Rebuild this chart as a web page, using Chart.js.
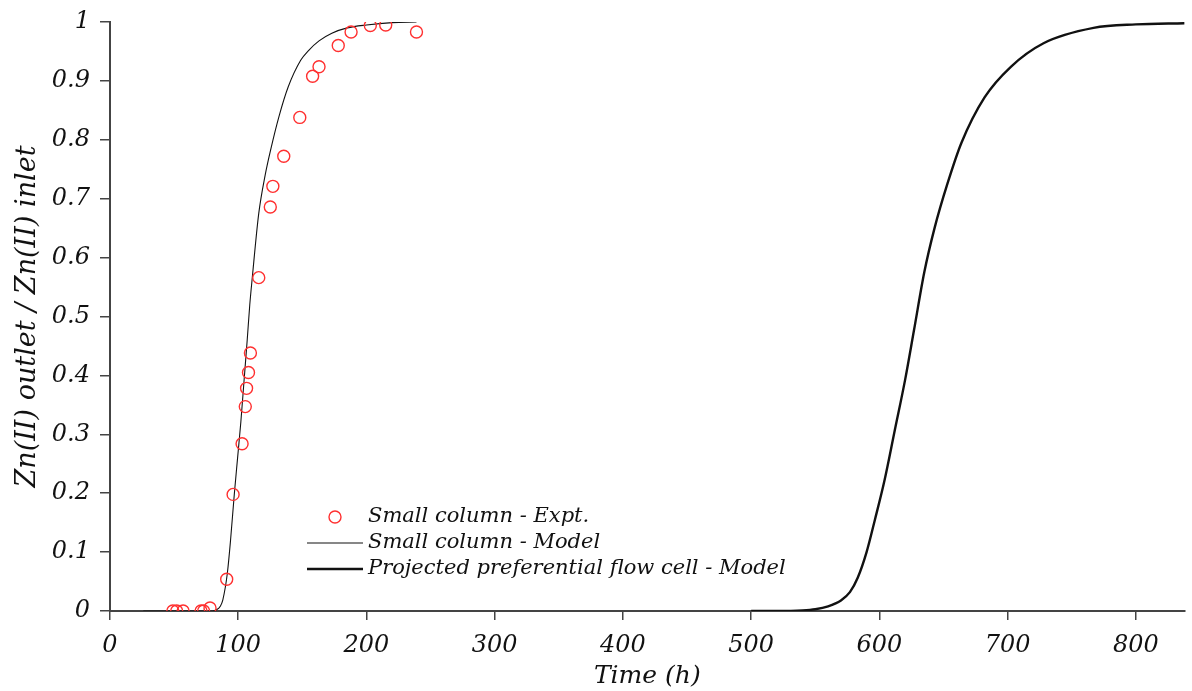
<!DOCTYPE html>
<html>
<head>
<meta charset="utf-8">
<script src="https://cdn.jsdelivr.net/npm/chart.js@4"></script>
<style>
  body { margin: 0; background: #fff; }
  #wrap { width: 1192px; height: 691px; position: relative; }
</style>
</head>
<body>
<div id="wrap"><canvas id="breakthrough"></canvas></div>
<script>
// Small column - experimental points
const exptTime  = [49, 52, 57, 71, 73, 78, 91, 96, 103, 105.5, 106.5, 108, 109.5, 116, 125, 127, 135.5, 148, 158, 163, 178, 188, 203, 215, 239];
const exptRatio = [0, 0, 0, 0, 0, 0.005, 0.054, 0.198, 0.284, 0.347, 0.378, 0.405, 0.438, 0.566, 0.686, 0.721, 0.772, 0.838, 0.908, 0.924, 0.960, 0.983, 0.994, 0.995, 0.983];

// Small column - model curve
const smallTime  = [26, 50, 70, 80, 83, 86, 88, 91.5, 94, 97, 99.5, 102, 104.5, 107, 109, 111, 116, 121, 125.5, 131.7, 139, 148.7, 155, 163, 173, 185, 200, 220, 239];
const smallRatio = [0, 0, 0, 0, 0.002, 0.008, 0.019, 0.064, 0.12, 0.2, 0.26, 0.32, 0.39, 0.46, 0.52, 0.567, 0.675, 0.74, 0.785, 0.839, 0.89, 0.935, 0.952, 0.968, 0.981, 0.99, 0.995, 0.999, 1.0];

// Projected preferential flow cell - model curve
const flowTime  = [500, 520, 540, 550, 560, 570, 577, 583, 590, 596.5, 604, 612, 620, 627, 635, 643, 653, 664, 682, 702.5, 728, 767, 800, 838];
const flowRatio = [0, 0, 0.001, 0.003, 0.008, 0.018, 0.032, 0.056, 0.1, 0.155, 0.222, 0.307, 0.392, 0.477, 0.575, 0.65, 0.725, 0.795, 0.872, 0.924, 0.964, 0.99, 0.996, 0.998];

const legendLabels = ['Small column - Expt.', 'Small column - Model', 'Projected preferential flow cell - Model'];

const FONT = 'DejaVu Serif';
const AXIS = '#444';

function pairs(xs, ys) {
    return xs.map((x, i) => ({ x: x, y: ys[i] }));
}

// Legend drawn inside the plot, bottom-left
const insideLegend = {
    id: 'insideLegend',
    afterDraw(chart) {
        const ctx = chart.ctx;
        const x0 = 307, textX = 368, y0 = 517, rowH = 26;
        ctx.save();
        ctx.font = 'italic 21px "' + FONT + '"';
        ctx.fillStyle = '#111';
        ctx.textBaseline = 'middle';
        legendLabels.forEach((label, i) => {
            const y = y0 + i * rowH;
            if (i === 0) {
                ctx.beginPath();
                ctx.arc(335, y, 6, 0, Math.PI * 2);
                ctx.strokeStyle = '#ff3030';
                ctx.lineWidth = 1.4;
                ctx.stroke();
            } else {
                ctx.beginPath();
                ctx.moveTo(x0, y);
                ctx.lineTo(363, y);
                ctx.strokeStyle = '#111';
                ctx.lineWidth = i === 1 ? 1.1 : 2.4;
                ctx.stroke();
            }
            ctx.fillText(label, textX, y);
        });
        ctx.restore();
    }
};

const chart = new Chart(document.getElementById('breakthrough').getContext('2d'), {
    type: 'scatter',
    data: {
        datasets: [
            {
                label: legendLabels[0],
                data: pairs(exptTime, exptRatio),
                showLine: false,
                pointStyle: 'circle',
                pointRadius: 6,
                pointBorderWidth: 1.4,
                pointBorderColor: '#ff3030',
                pointBackgroundColor: 'rgba(0,0,0,0)',
                order: 0
            },
            {
                label: legendLabels[1],
                data: pairs(smallTime, smallRatio),
                showLine: true,
                borderColor: '#111',
                borderWidth: 1.1,
                pointRadius: 0,
                cubicInterpolationMode: 'monotone',
                order: 1
            },
            {
                label: legendLabels[2],
                data: pairs(flowTime, flowRatio),
                showLine: true,
                borderColor: '#111',
                borderWidth: 2.4,
                pointRadius: 0,
                cubicInterpolationMode: 'monotone',
                order: 2
            }
        ]
    },
    options: {
        responsive: true,
        maintainAspectRatio: false,
        animation: false,
        layout: { padding: { top: 22, right: 0, bottom: 0, left: 4 } },
        plugins: {
            legend: { display: false },
            tooltip: { enabled: false }
        },
        scales: {
            x: {
                type: 'linear',
                min: 0,
                max: 838,
                grid: { drawOnChartArea: false, tickLength: 9, color: AXIS, lineWidth: 1.5 },
                border: { color: AXIS, width: 2 },
                ticks: {
                    stepSize: 100,
                    includeBounds: false,
                    padding: 11,
                    color: '#111',
                    font: { family: FONT, style: 'italic', size: 24 },
                    maxRotation: 0
                },
                title: {
                    display: true,
                    text: 'Time (h)',
                    color: '#111',
                    padding: { top: 0, bottom: 0 },
                    font: { family: FONT, style: 'italic', size: 25 }
                },
                afterFit: function(scale) {
                    scale.height = 80;
                    scale.paddingLeft = 0;
                    scale.paddingRight = 0;
                }
            },
            y: {
                type: 'linear',
                min: 0,
                max: 1,
                grid: { drawOnChartArea: false, tickLength: 10, color: AXIS, lineWidth: 1.5 },
                border: { color: AXIS, width: 2 },
                ticks: {
                    stepSize: 0.1,
                    padding: 10,
                    color: '#111',
                    font: { family: FONT, style: 'italic', size: 24 },
                    callback: v => String(+v.toFixed(1))
                },
                title: {
                    display: true,
                    text: 'Zn(II) outlet / Zn(II) inlet',
                    color: '#111',
                    padding: { top: 8, bottom: 0 },
                    font: { family: FONT, style: 'italic', size: 27 }
                },
                afterFit: function(scale) {
                    scale.width = 106;
                    scale.paddingTop = 0;
                    scale.paddingBottom = 0;
                }
            }
        }
    },
    plugins: [insideLegend]
});
</script>
</body>
</html>
